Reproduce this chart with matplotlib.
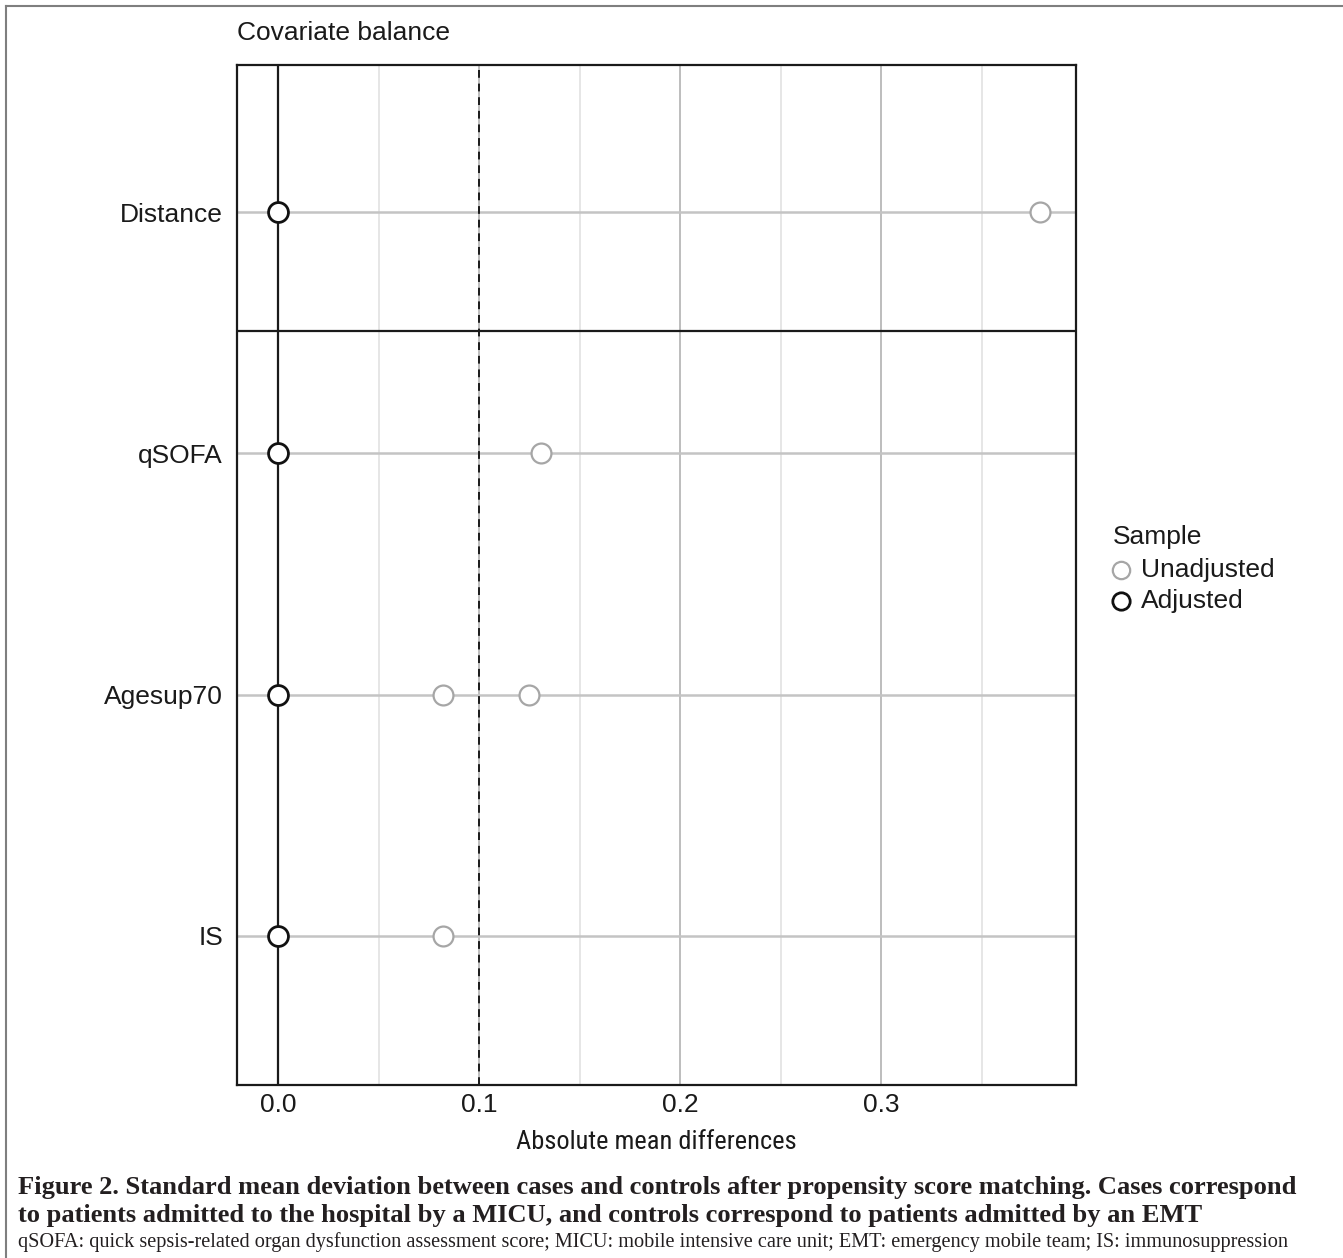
import matplotlib
matplotlib.use("Agg")
import matplotlib.pyplot as plt
from matplotlib.lines import Line2D
from matplotlib import font_manager
import numpy as np

# ---- data ----
covariates = ["IS", "Agesup70", "qSOFA", "Distance"]
adjusted_values = [0.0, 0.0, 0.0, 0.0]
unadjusted_covariate = ["IS", "Agesup70", "Agesup70", "qSOFA", "Distance"]
unadjusted_values = [0.082, 0.082, 0.125, 0.131, 0.379]
threshold = 0.1
x_ticks = [0.0, 0.1, 0.2, 0.3]
x_tick_labels = ["0.0", "0.1", "0.2", "0.3"]
minor_ticks = [0.05, 0.15, 0.25, 0.35]

title = "Covariate balance"
xlabel = "Absolute mean differences"
legend_title = "Sample"
legend_labels = ["Unadjusted", "Adjusted"]
caption_line1 = ("Figure 2. Standard mean deviation between cases and controls after propensity score matching. "
                 "Cases correspond")
caption_line2 = "to patients admitted to the hospital by a MICU, and controls correspond to patients admitted by an EMT"
caption_note = ("qSOFA: quick sepsis-related organ dysfunction assessment score; MICU: mobile intensive care unit; "
                "EMT: emergency mobile team; IS: immunosuppression")

plt.rcParams['font.family'] = ['Liberation Sans', 'DejaVu Sans']
installed = {f.name for f in font_manager.fontManager.ttflist}
narrow_candidates = ['Liberation Sans Narrow', 'Arial Narrow', 'Roboto Condensed',
                     'DejaVu Sans Condensed', 'Open Sans Condensed']
narrow = next((n for n in narrow_candidates if n in installed), None)

W, H = 1343, 1258
fig = plt.figure(figsize=(W / 100, H / 100), dpi=100)

AX_L, AX_R, AX_T, AX_B = 237, 1076, 65, 1085
ax = fig.add_axes([AX_L / W, 1 - AX_B / H, (AX_R - AX_L) / W, (AX_B - AX_T) / H])

ypos = {c: i for i, c in enumerate(covariates)}
GRAY = "#a6a6a6"
INK = "#1a1a1a"

# grid lines
for m in minor_ticks:
    ax.axvline(m, color="#e6e6e6", lw=1.4, zorder=0)
for t in x_ticks[1:]:
    ax.axvline(t, color="#bdbdbd", lw=1.4, zorder=0)
for c in covariates:
    ax.axhline(ypos[c], color="#c4c4c4", lw=1.8, zorder=1)

# panel separator
ax.axhline(2.506, color=INK, lw=1.6, zorder=2)

# zero & threshold lines
ax.axvline(0, color=INK, lw=1.6, zorder=2)
ax.axvline(threshold, color=INK, lw=1.4, ls=(0, (4, 3)), zorder=2)

# points
ax.scatter(unadjusted_values, [ypos[c] for c in unadjusted_covariate], s=205,
           facecolors="white", edgecolors=GRAY, linewidths=1.6, zorder=3)
ax.scatter(adjusted_values, [ypos[c] for c in covariates], s=205,
           facecolors="white", edgecolors="#111111", linewidths=2.0, zorder=4)

ax.set_xlim(-0.0204, 0.397)
ax.set_ylim(-0.618, 3.61)
ax.set_xticks(x_ticks)
ax.set_xticklabels(x_tick_labels)
ax.set_yticks([ypos[c] for c in covariates])
ax.set_yticklabels(covariates)
ax.tick_params(axis="both", length=0, labelsize=19, colors=INK)
ax.tick_params(axis="x", pad=6)
ax.tick_params(axis="y", pad=10)
for s in ax.spines.values():
    s.set_color(INK)
    s.set_linewidth(1.6)

fig.text(AX_L / W, 1 - 33 / H, title, fontsize=19, color=INK, ha="left", va="center")
if narrow:
    ax.set_xlabel(xlabel, fontsize=19, color=INK, labelpad=9, family=[narrow, 'Liberation Sans'])
else:
    ax.set_xlabel(xlabel, fontsize=16, color=INK, labelpad=10)

# legend (drawn manually in figure coordinates)
fig.text(1113 / W, 1 - 537 / H, legend_title, fontsize=19, color=INK, ha="left", va="center")
for lab, col, lw_, yy in [(legend_labels[0], GRAY, 1.6, 570), (legend_labels[1], "#111111", 2.0, 601)]:
    fig.add_artist(Line2D([1121 / W], [1 - yy / H], transform=fig.transFigure, marker="o", ls="",
                          markersize=12.5, markerfacecolor="white", markeredgecolor=col,
                          markeredgewidth=lw_))
    fig.text(1141 / W, 1 - yy / H, lab, fontsize=19, color=INK, ha="left", va="center")

# caption
serif = ["Liberation Serif", "DejaVu Serif"]
fig.text(18 / W, 1 - 1194 / H, caption_line1, family=serif, weight="bold", fontsize=19.05,
         va="baseline", ha="left", color="#231f20")
fig.text(18 / W, 1 - 1222 / H, caption_line2, family=serif, weight="bold", fontsize=19.05,
         va="baseline", ha="left", color="#231f20")
fig.text(18 / W, 1 - 1247 / H, caption_note, family=serif, fontsize=14.6,
         va="baseline", ha="left", color="#231f20")

# figure border (top and left)
fig.add_artist(Line2D([6 / W, 6 / W], [0, 1 - 6 / H], transform=fig.transFigure, color="#7f7f7f", lw=1.5))
fig.add_artist(Line2D([6 / W, 1], [1 - 6 / H, 1 - 6 / H], transform=fig.transFigure, color="#7f7f7f", lw=1.5))

fig.savefig("out.png", dpi=100, facecolor="white")
